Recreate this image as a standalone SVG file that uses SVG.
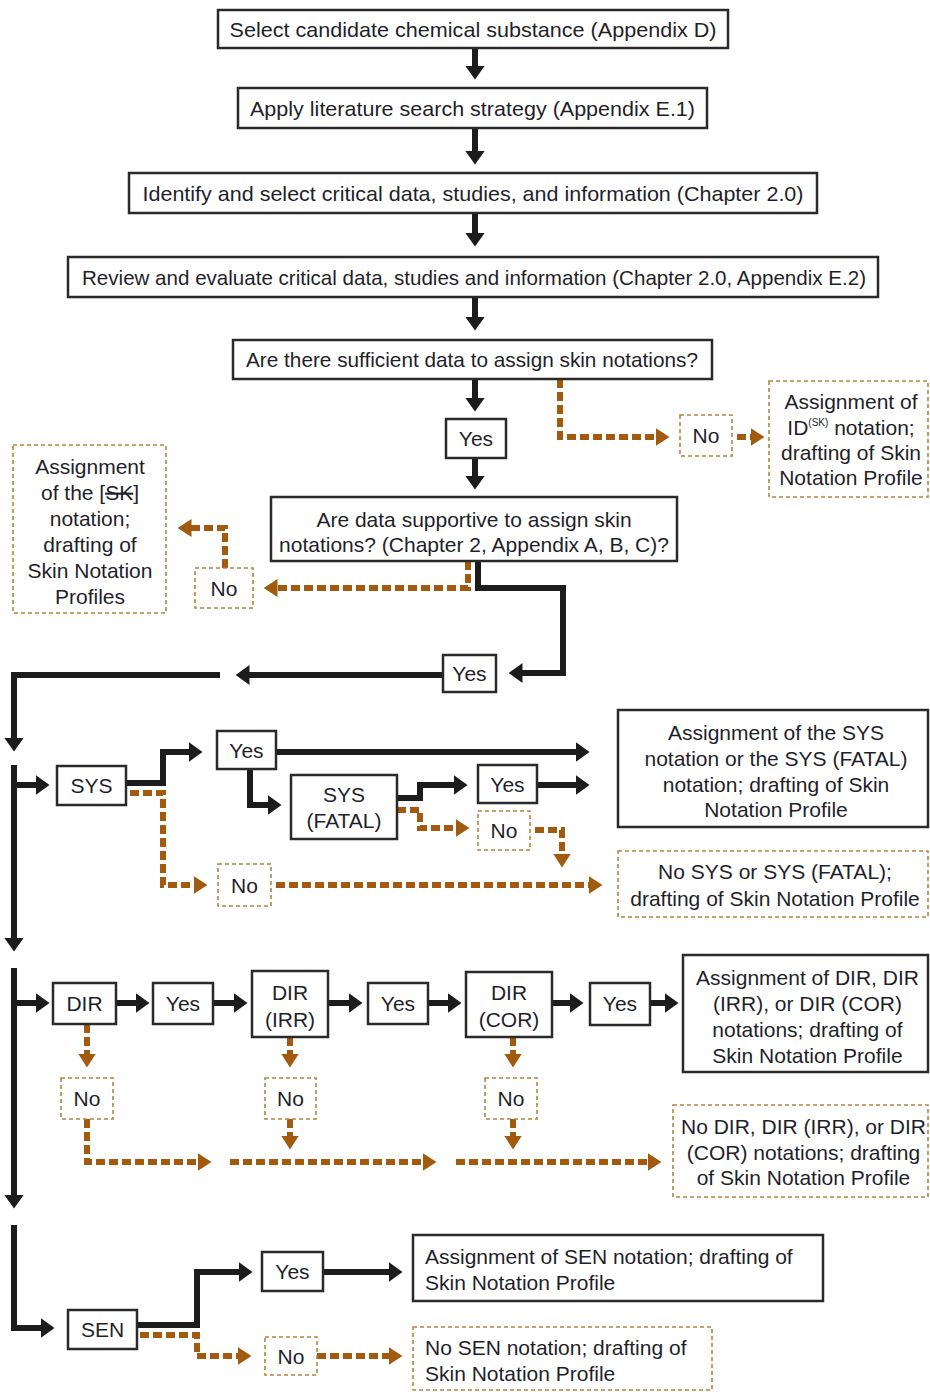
<svg xmlns="http://www.w3.org/2000/svg" width="930" height="1392" viewBox="0 0 930 1392">
<style>
.bx{fill:#fff;stroke:#2a2a2a;stroke-width:2.5}
.db{fill:#fff;stroke:#b5833f;stroke-width:1.6;stroke-dasharray:4 3}
text{font-family:"Liberation Sans",Arial,sans-serif;font-size:21px;fill:#1f1f2a}
.c{text-anchor:middle}
.k{fill:none;stroke:#1c1c1c;stroke-width:6;stroke-linejoin:miter;marker-end:url(#ak)}
.o{fill:none;stroke:#a15a0e;stroke-width:6;stroke-dasharray:9 4;marker-end:url(#ao)}
</style>
<defs>
<marker id="ak" viewBox="0 0 14 20" refX="0.5" refY="10" markerWidth="14" markerHeight="20" markerUnits="userSpaceOnUse" orient="auto"><path d="M0,0 L14,10 L0,20 z" fill="#1c1c1c"/></marker>
<marker id="ao" viewBox="0 0 14 18" refX="0.5" refY="9" markerWidth="14" markerHeight="18" markerUnits="userSpaceOnUse" orient="auto"><path d="M0,0 L14,9 L0,18 z" fill="#a15a0e"/></marker>
</defs>

<g id="connectors">
<path class="k" d="M475,48 V66"/>
<path class="k" d="M475,128 V151"/>
<path class="k" d="M475,213 V233"/>
<path class="k" d="M475,297 V317"/>
<path class="k" d="M475,379 V398"/>
<path class="k" d="M475,458 V476"/>
<path class="k" d="M478,561 V588 H563 V673 H522"/>
<path class="k" d="M443,675 H249"/>
<path class="k" d="M220,675 H14 V738"/>
<path class="k" d="M14,765 V938"/>
<path class="k" d="M14,785 H36"/>
<path class="k" d="M14,968 V1195"/>
<path class="k" d="M14,1003 H36"/>
<path class="k" d="M14,1225 V1328 H41"/>
<path class="k" d="M126,783 H163 V752 H189"/>
<path class="k" d="M276,752 H576"/>
<path class="k" d="M250,769 V805 H268"/>
<path class="k" d="M397,798 H420 V785 H454"/>
<path class="k" d="M537,785 H576"/>
<path class="k" d="M116,1003 H136"/>
<path class="k" d="M213,1003 H234"/>
<path class="k" d="M328,1003 H349"/>
<path class="k" d="M428,1003 H448"/>
<path class="k" d="M552,1003 H570"/>
<path class="k" d="M650,1003 H665"/>
<path class="k" d="M137,1325 H197 V1272 H239"/>
<path class="k" d="M323,1272 H389"/>

<path class="o" d="M560,379 V437 H656"/>
<path class="o" d="M737,437 H751"/>
<path class="o" d="M468,561 V588 H277"/>
<path class="o" d="M225,568 V528 H191"/>
<path class="o" d="M130,793 H163 V885 H194"/>
<path class="o" d="M276,885 H589"/>
<path class="o" d="M397,810 H420 V828 H456"/>
<path class="o" d="M535,830 H562 V854"/>
<path class="o" d="M87,1024 V1054"/>
<path class="o" d="M87,1119 V1162 H198"/>
<path class="o" d="M290,1037 V1054"/>
<path class="o" d="M290,1119 V1136"/>
<path class="o" d="M230,1162 H423"/>
<path class="o" d="M513,1037 V1054"/>
<path class="o" d="M513,1119 V1136"/>
<path class="o" d="M456,1162 H648"/>
<path class="o" d="M140,1335 H197 V1356 H238"/>
<path class="o" d="M317,1356 H389"/>
</g>

<g id="n1"><rect class="bx" x="218" y="10" width="510" height="38"/><text class="c" x="473" y="36.5" textLength="487" lengthAdjust="spacingAndGlyphs">Select candidate chemical substance (Appendix D)</text></g>
<g id="n2"><rect class="bx" x="238" y="88" width="469" height="40"/><text class="c" x="472.5" y="115.5" textLength="445" lengthAdjust="spacingAndGlyphs">Apply literature search strategy (Appendix E.1)</text></g>
<g id="n3"><rect class="bx" x="129" y="173" width="688" height="40"/><text class="c" x="473" y="200.5" textLength="661" lengthAdjust="spacingAndGlyphs">Identify and select critical data, studies, and information (Chapter 2.0)</text></g>
<g id="n4"><rect class="bx" x="68" y="257" width="810" height="40"/><text class="c" x="474" y="284.5" textLength="784" lengthAdjust="spacingAndGlyphs">Review and evaluate critical data, studies and information (Chapter 2.0, Appendix E.2)</text></g>
<g id="n5"><rect class="bx" x="233" y="340" width="479" height="39"/><text class="c" x="472" y="367" textLength="452" lengthAdjust="spacingAndGlyphs">Are there sufficient data to assign skin notations?</text></g>
<g id="n6"><rect class="bx" x="446" y="419" width="60" height="39"/><text class="c" x="476" y="446">Yes</text></g>
<g id="n7"><rect class="db" x="680" y="415" width="52" height="41"/><text class="c" x="706" y="443">No</text></g>
<g id="n8"><rect class="db" x="769" y="381" width="159" height="116"/>
<text class="c" x="851" y="409">Assignment of</text>
<text class="c" x="851" y="435">ID<tspan font-size="10" dy="-9">(SK)</tspan><tspan dy="9"> notation;</tspan></text>
<text class="c" x="851" y="460">drafting of Skin</text>
<text class="c" x="851" y="485">Notation Profile</text></g>
<g id="n9"><rect class="bx" x="271" y="497" width="406" height="64"/>
<text class="c" x="474" y="527">Are data supportive to assign skin</text>
<text class="c" x="474" y="552">notations? (Chapter 2, Appendix A, B, C)?</text></g>
<g id="n10"><rect class="db" x="13" y="445" width="153" height="168"/>
<text class="c" x="90" y="474">Assignment</text>
<text class="c" x="90" y="500">of the [<tspan text-decoration="line-through">SK</tspan>]</text>
<text class="c" x="90" y="526">notation;</text>
<text class="c" x="90" y="552">drafting of</text>
<text class="c" x="90" y="578">Skin Notation</text>
<text class="c" x="90" y="604">Profiles</text></g>
<g id="n11"><rect class="db" x="195" y="568" width="58" height="40"/><text class="c" x="224" y="595.5">No</text></g>
<g id="n12"><rect class="bx" x="443" y="655" width="53" height="37"/><text class="c" x="469.5" y="681">Yes</text></g>

<g id="n13"><rect class="bx" x="57" y="766" width="69" height="39"/><text class="c" x="91.5" y="793">SYS</text></g>
<g id="n14"><rect class="bx" x="217" y="731" width="59" height="38"/><text class="c" x="246.5" y="757.5">Yes</text></g>
<g id="n15"><rect class="bx" x="291" y="775" width="106" height="64"/><text class="c" x="344" y="801.5">SYS</text><text class="c" x="344" y="827.5">(FATAL)</text></g>
<g id="n16"><rect class="bx" x="478" y="765" width="59" height="38"/><text class="c" x="507.5" y="791.5">Yes</text></g>
<g id="n17"><rect class="db" x="478" y="811" width="52" height="39"/><text class="c" x="504" y="838">No</text></g>
<g id="n18"><rect class="bx" x="618" y="710" width="310" height="117"/>
<text class="c" x="776" y="740">Assignment of the SYS</text>
<text class="c" x="776" y="766">notation or the SYS (FATAL)</text>
<text class="c" x="776" y="792">notation; drafting of Skin</text>
<text class="c" x="776" y="817">Notation Profile</text></g>
<g id="n19"><rect class="db" x="218" y="864" width="53" height="42"/><text class="c" x="244.5" y="892.5">No</text></g>
<g id="n20"><rect class="db" x="618" y="851" width="310" height="66"/>
<text class="c" x="775" y="879">No SYS or SYS (FATAL);</text>
<text class="c" x="775" y="906">drafting of Skin Notation Profile</text></g>

<g id="n21"><rect class="bx" x="53" y="983" width="63" height="41"/><text class="c" x="84.5" y="1011">DIR</text></g>
<g id="n22"><rect class="bx" x="153" y="983" width="60" height="41"/><text class="c" x="183" y="1011">Yes</text></g>
<g id="n23"><rect class="bx" x="252" y="971" width="76" height="66"/><text class="c" x="290" y="1000">DIR</text><text class="c" x="290" y="1027">(IRR)</text></g>
<g id="n24"><rect class="bx" x="368" y="983" width="60" height="41"/><text class="c" x="398" y="1011">Yes</text></g>
<g id="n25"><rect class="bx" x="466" y="972" width="86" height="65"/><text class="c" x="509" y="1000">DIR</text><text class="c" x="509" y="1027">(COR)</text></g>
<g id="n26"><rect class="bx" x="590" y="983" width="60" height="42"/><text class="c" x="620" y="1011">Yes</text></g>
<g id="n27"><rect class="bx" x="683" y="955" width="245" height="117"/>
<text class="c" x="807.5" y="984.5">Assignment of DIR, DIR</text>
<text class="c" x="807.5" y="1010.5">(IRR), or DIR (COR)</text>
<text class="c" x="807.5" y="1036.5">notations; drafting of</text>
<text class="c" x="807.5" y="1062.5">Skin Notation Profile</text></g>
<g id="n28"><rect class="db" x="61" y="1078" width="52" height="41"/><text class="c" x="87" y="1106">No</text></g>
<g id="n29"><rect class="db" x="265" y="1078" width="51" height="41"/><text class="c" x="290.5" y="1106">No</text></g>
<g id="n30"><rect class="db" x="485" y="1078" width="52" height="41"/><text class="c" x="511" y="1106">No</text></g>
<g id="n31"><rect class="db" x="673" y="1105" width="255" height="92"/>
<text class="c" x="803.5" y="1134">No DIR, DIR (IRR), or DIR</text>
<text class="c" x="803.5" y="1160">(COR) notations; drafting</text>
<text class="c" x="803.5" y="1185">of Skin Notation Profile</text></g>

<g id="n32"><rect class="bx" x="68" y="1310" width="69" height="39"/><text class="c" x="102.5" y="1337">SEN</text></g>
<g id="n33"><rect class="bx" x="262" y="1252" width="61" height="39"/><text class="c" x="292.5" y="1279">Yes</text></g>
<g id="n34"><rect class="bx" x="413" y="1235" width="410" height="66"/>
<text x="425" y="1264">Assignment of SEN notation; drafting of</text>
<text x="425" y="1290">Skin Notation Profile</text></g>
<g id="n35"><rect class="db" x="265" y="1337" width="52" height="38"/><text class="c" x="291" y="1363.5">No</text></g>
<g id="n36"><rect class="db" x="413" y="1327" width="299" height="63"/>
<text x="425" y="1355">No SEN notation; drafting of</text>
<text x="425" y="1381">Skin Notation Profile</text></g>
</svg>
